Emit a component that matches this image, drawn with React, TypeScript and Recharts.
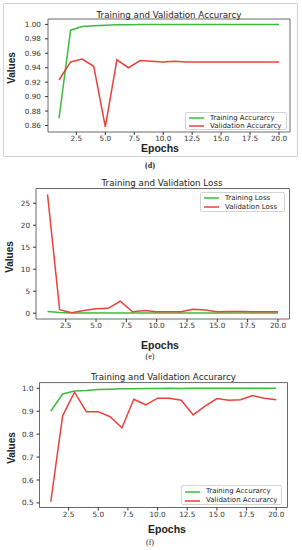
import React from "react";
import { LineChart, Line, XAxis, YAxis, ReferenceArea, Legend } from "recharts";

const epochs = [1, 2, 3, 4, 5, 6, 7, 8, 9, 10, 11, 12, 13, 14, 15, 16, 17, 18, 19, 20];
const epochTicks = [2.5, 5, 7.5, 10, 12.5, 15, 17.5, 20];

// (d) accuracy
const trainAccD = [0.87, 0.992, 0.997, 0.998, 0.999, 0.9995, 0.9995, 1.0, 1.0, 1.0, 1.0, 1.0, 1.0, 1.0, 1.0, 1.0, 1.0, 1.0, 1.0, 1.0];
const valAccD = [0.923, 0.948, 0.952, 0.942, 0.858, 0.951, 0.94, 0.95, 0.949, 0.948, 0.949, 0.948, 0.948, 0.948, 0.948, 0.948, 0.948, 0.948, 0.948, 0.948];
const ticksD = [0.86, 0.88, 0.9, 0.92, 0.94, 0.96, 0.98, 1.0];

// (e) loss
const trainLossE = [0.4, 0.15, 0.05, 0.04, 0.03, 0.03, 0.02, 0.02, 0.02, 0.02, 0.02, 0.02, 0.02, 0.02, 0.02, 0.02, 0.02, 0.02, 0.02, 0.02];
const valLossE = [27, 0.8, 0.1, 0.6, 1.0, 1.1, 2.7, 0.3, 0.6, 0.3, 0.3, 0.3, 0.9, 0.7, 0.3, 0.4, 0.4, 0.3, 0.3, 0.3];
const ticksE = [0, 5, 10, 15, 20, 25];

// (f) accuracy
const trainAccF = [0.9, 0.975, 0.988, 0.99, 0.995, 0.996, 0.998, 0.998, 0.999, 0.999, 1.0, 0.999, 1.0, 1.0, 1.0, 1.0, 1.0, 1.0, 1.0, 1.0];
const valAccF = [0.505, 0.88, 0.983, 0.898, 0.898, 0.876, 0.828, 0.952, 0.928, 0.957, 0.956, 0.948, 0.884, 0.922, 0.955, 0.948, 0.95, 0.968, 0.957, 0.95];
const ticksF = [0.5, 0.6, 0.7, 0.8, 0.9, 1.0];

const GREEN = "#3dbb3d";
const RED = "#e8423a";
const TICK_FONT = { fill: "#333", fontSize: 7.25, fontFamily: "DejaVu Sans" };

const toRows = (a: number[], b: number[]) =>
  epochs.map((e, i) => ({ epoch: e, train: a[i], val: b[i] }));

const Txt = ({ x, y, size, bold, serif, rotate, children }: any) => (
  <div
    style={{
      position: "absolute",
      left: x,
      top: y,
      transform: `translate(-50%, -50%)${rotate ? " rotate(-90deg)" : ""}`,
      fontSize: size,
      fontWeight: bold ? "bold" : "normal",
      fontFamily: serif ? "Liberation Serif" : bold ? "Liberation Sans" : "DejaVu Sans",
      color: "#222",
      whiteSpace: "nowrap",
      lineHeight: 1,
    }}
  >
    {children}
  </div>
);

const legendContent = (rowH: number) => (props: any) => (
  <div
    style={{
      border: "1px solid #d4d4d4",
      borderRadius: 2,
      background: "rgba(255,255,255,0.9)",
      padding: "1px 2px 0 3px",
      boxSizing: "border-box",
      width: "100%",
      height: "100%",
      fontFamily: "DejaVu Sans",
      fontSize: 7,
      lineHeight: 1,
      color: "#222",
      whiteSpace: "nowrap",
    }}
  >
    {(props.payload || []).map((p: any) => (
      <div key={p.value} style={{ display: "flex", alignItems: "center", height: rowH }}>
        <svg width={15} height={4} style={{ marginRight: 6, flex: "none" }}>
          <line x1={0} y1={2} x2={15} y2={2} stroke={p.color} strokeWidth={1.5} />
        </svg>
        <span>{p.value}</span>
      </div>
    ))}
  </div>
);

const Panel = ({ top, height, mTop, yWidth, right, xHeight, yDomain, yTicks, yFmt, yMargin, data, trainName, valName, legend }: any) => (
  <div style={{ position: "absolute", left: 0, top }}>
    <LineChart width={302} height={height} data={data} margin={{ top: mTop, right, bottom: 0, left: 0 }}>
      <XAxis
        dataKey="epoch"
        type="number"
        domain={[0.05, 20.95]}
        ticks={epochTicks}
        interval={0}
        allowDataOverflow
        tickFormatter={(v: number) => v.toFixed(1)}
        height={xHeight}
        axisLine={false}
        tickSize={3}
        tickMargin={1}
        tickLine={{ stroke: "#333" }}
        tick={TICK_FONT}
      />
      <YAxis
        type="number"
        domain={yDomain}
        ticks={yTicks}
        interval={0}
        allowDataOverflow
        tickFormatter={yFmt}
        width={yWidth}
        axisLine={false}
        tickSize={3}
        tickMargin={yMargin}
        tickLine={{ stroke: "#333" }}
        tick={TICK_FONT}
      />
      <ReferenceArea x1={0.05} x2={20.95} y1={yDomain[0]} y2={yDomain[1]} fill="none" stroke="#444" strokeWidth={0.8} ifOverflow="visible" />
      <Line type="linear" dataKey="train" name={trainName} stroke={GREEN} strokeWidth={1.5} dot={false} isAnimationActive={false} />
      <Line type="linear" dataKey="val" name={valName} stroke={RED} strokeWidth={1.5} dot={false} isAnimationActive={false} />
      <Legend
        layout="vertical"
        align="center"
        verticalAlign="middle"
        wrapperStyle={{ left: legend.left, top: legend.top, width: legend.width, height: legend.height }}
        content={legendContent(legend.rowH)}
      />
    </LineChart>
  </div>
);

export default function App() {
  return (
    <div style={{ position: "absolute", left: 0, top: 0, width: 302, height: 550, background: "#fff", overflow: "hidden" }}>
      <div style={{ position: "absolute", left: 3, top: 3, width: 295, height: 154, border: "1px solid #d2d2d2", boxSizing: "border-box" }} />

      <Panel
        top={0}
        height={150}
        mTop={19}
        yWidth={48}
        right={12}
        xHeight={18}
        yDomain={[0.851, 1.0075]}
        yTicks={ticksD}
        yFmt={(v: number) => v.toFixed(2)}
        yMargin={4}
        data={toRows(trainAccD, valAccD)}
        trainName="Training Accurarcy"
        valName="Validation Accurarcy"
        legend={{ left: 185, top: 112, width: 102, height: 18, rowH: 8 }}
      />
      <Txt x={169} y={14.5} size={8.7}>Training and Validation Accurarcy</Txt>
      <Txt x={12} y={68} size={10} bold rotate>Values</Txt>
      <Txt x={160} y={148} size={10.5} bold>Epochs</Txt>
      <Txt x={150} y={166} size={8} bold serif>(d)</Txt>

      <Panel
        top={170}
        height={165}
        mTop={18.5}
        yWidth={36}
        right={12.5}
        xHeight={16}
        yDomain={[-1.33, 28.35]}
        yTicks={ticksE}
        yFmt={(v: number) => String(v)}
        yMargin={3}
        data={toRows(trainLossE, valLossE)}
        trainName="Training Loss"
        valName="Validation Loss"
        legend={{ left: 200, top: 21.5, width: 85, height: 20, rowH: 9 }}
      />
      <Txt x={162} y={183} size={8.7}>Training and Validation Loss</Txt>
      <Txt x={10} y={257} size={10} bold rotate>Values</Txt>
      <Txt x={160} y={345} size={10.5} bold>Epochs</Txt>
      <Txt x={150} y={357} size={8} serif>(e)</Txt>

      <Panel
        top={365}
        height={160}
        mTop={17.6}
        yWidth={39.5}
        right={14.5}
        xHeight={17.5}
        yDomain={[0.48, 1.0248]}
        yTicks={ticksF}
        yFmt={(v: number) => v.toFixed(1)}
        yMargin={3}
        data={toRows(trainAccF, valAccF)}
        trainName="Training Accurarcy"
        valName="Validation Accurarcy"
        legend={{ left: 181, top: 120, width: 101, height: 20, rowH: 9 }}
      />
      <Txt x={163.5} y={377} size={8.7}>Training and Validation Accurarcy</Txt>
      <Txt x={12} y={448} size={10} bold rotate>Values</Txt>
      <Txt x={167} y={529} size={10.5} bold>Epochs</Txt>
      <Txt x={150} y={543} size={8} serif>(f)</Txt>
    </div>
  );
}
